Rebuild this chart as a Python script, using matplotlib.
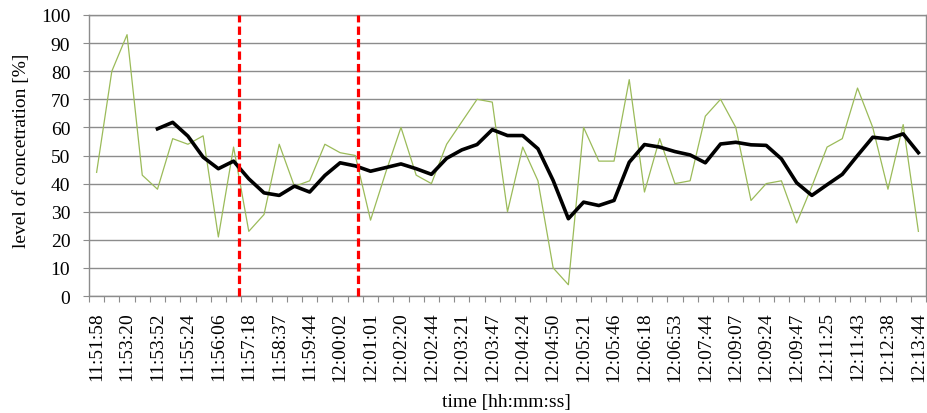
import matplotlib
matplotlib.use("Agg")
import matplotlib.pyplot as plt
import numpy as np

# measured concentration (every sample), labels only on every other sample
concentration = [44, 80, 93, 43, 38, 56, 54, 57, 21, 53,
                 23, 29, 54, 39, 41, 54, 51, 50, 27, 44,
                 60, 43, 40, 54, 62, 70, 69, 30, 53, 41,
                 10, 4, 60, 48, 48, 77, 37, 56, 40, 41,
                 64, 70, 60, 34, 40, 41, 26, 39, 53, 56,
                 74, 60, 38, 61, 23]

# moving average trend (starts at the 5th sample)
trend = [np.nan, np.nan, np.nan, np.nan, 59.5, 61.8, 56.9, 49.4, 45.3, 48,
         41.7, 36.7, 35.8, 39.1, 37, 42.9, 47.4, 46.3, 44.4, 45.7,
         47, 45.3, 43.3, 49, 52, 53.9, 59.2, 57.1, 57.1, 52.4,
         41.1, 27.5, 33.4, 32.2, 34, 47.6, 53.9, 53, 51.4, 50.2,
         47.4, 54.1, 54.7, 53.8, 53.6, 48.8, 40.3, 35.8, 39.6, 43.3,
         50, 56.5, 55.9, 57.7, 51]

time_labels = ["11:51:58", "11:53:20", "11:53:52", "11:55:24", "11:56:06",
               "11:57:18", "11:58:37", "11:59:44", "12:00:02", "12:01:01",
               "12:02:20", "12:02:44", "12:03:21", "12:03:47", "12:04:24",
               "12:04:50", "12:05:21", "12:05:46", "12:06:18", "12:06:53",
               "12:07:44", "12:09:07", "12:09:24", "12:09:47", "12:11:25",
               "12:11:43", "12:12:38", "12:13:44"]

# event markers, in sample units
event_positions = [9.36, 17.19]

plt.rcParams['font.family'] = ['Liberation Serif', 'DejaVu Serif']

fig = plt.figure(figsize=(9.27, 4.14), dpi=100)
ax = fig.add_axes([89 / 927, 117 / 414, 837 / 927, 281 / 414])

x = np.arange(len(concentration))
grid_color = "#8c8c8c"

ax.plot(x, concentration, color="#9BBB59", linewidth=0.9, zorder=3)
ax.plot(x, trend, color="black", linewidth=2.6, zorder=4)

for pos in event_positions:
    ax.axvline(pos, color="#FF0000", linewidth=2.3, dashes=(2.6, 1.3),
               zorder=5, clip_on=False)

ax.set_xlim(-0.5, len(concentration) - 0.5)
ax.set_ylim(0, 100)
ax.set_yticks(range(0, 101, 10))
ax.yaxis.grid(True, color=grid_color, linewidth=1.0)
ax.set_axisbelow(True)

# tick marks between categories, labels on every other category
ax.set_xticks(np.arange(-0.5, len(concentration), 1.0))
ax.set_xticklabels([])
ax.set_xticks(x[::2], minor=True)
ax.set_xticklabels(time_labels, minor=True, rotation=90, fontsize=14)
ax.tick_params(axis='x', which='major', length=4.5, color=grid_color)
ax.tick_params(axis='x', which='minor', length=0, pad=11)
ax.tick_params(axis='y', length=4.5, color=grid_color, pad=9, labelsize=14)

for side in ["left", "bottom", "right", "top"]:
    ax.spines[side].set_color(grid_color)
    ax.spines[side].set_linewidth(1.0)

fig.text(22 / 927, 1 - 151 / 414, "level of concetration [%]", rotation=90,
         ha='center', va='center', fontsize=14)
fig.text(506 / 927, 1 - 403 / 414, "time [hh:mm:ss]",
         ha='center', va='center', fontsize=14)

fig.savefig("out.png", dpi=100)
